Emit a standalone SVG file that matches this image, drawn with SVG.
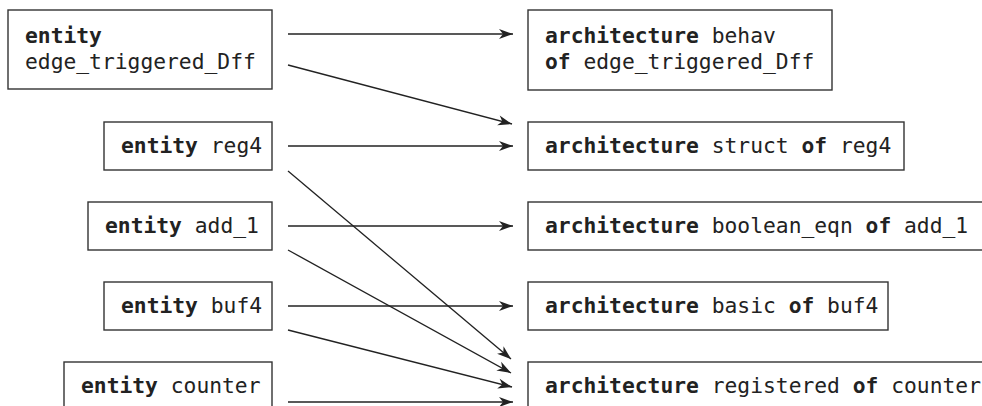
<svg xmlns="http://www.w3.org/2000/svg" width="982" height="406" viewBox="0 0 982 406">
  <style>
    .box { fill: #ffffff; stroke: #333333; stroke-width: 1.4; }
    .lbl { font-family: "DejaVu Sans Mono", "Liberation Mono", monospace; font-size: 21.3px; fill: #222222; }
    .kw { font-weight: bold; }
    .edge { stroke: #222222; stroke-width: 1.3; fill: none; marker-end: url(#arrow); }
  </style>
  <defs>
    <marker id="arrow" markerUnits="userSpaceOnUse" markerWidth="16" markerHeight="12" viewBox="-15 -6 16 12" refX="0" refY="0" orient="auto">
      <path d="M0,0 L-14,-5 L-10,0 L-14,5 Z" fill="#222222"/>
    </marker>
  </defs>
  <rect width="982" height="406" fill="#ffffff"/>

  <!-- entities -->
  <g id="ent-dff">
    <rect class="box" x="8" y="10" width="264" height="79"/>
    <text class="lbl" x="25" y="43"><tspan class="kw">entity</tspan></text>
    <text class="lbl" x="25" y="69">edge_triggered_Dff</text>
  </g>
  <g id="ent-reg4">
    <rect class="box" x="104" y="122" width="168" height="48"/>
    <text class="lbl" x="121" y="153"><tspan class="kw">entity</tspan> reg4</text>
  </g>
  <g id="ent-add1">
    <rect class="box" x="88" y="202" width="184" height="48"/>
    <text class="lbl" x="105" y="233"><tspan class="kw">entity</tspan> add_1</text>
  </g>
  <g id="ent-buf4">
    <rect class="box" x="104" y="282" width="168" height="48"/>
    <text class="lbl" x="121" y="313"><tspan class="kw">entity</tspan> buf4</text>
  </g>
  <g id="ent-counter">
    <rect class="box" x="64" y="362" width="208" height="60"/>
    <text class="lbl" x="81" y="393"><tspan class="kw">entity</tspan> counter</text>
  </g>

  <!-- architectures -->
  <g id="arch-behav">
    <rect class="box" x="528" y="10" width="304" height="80"/>
    <text class="lbl" x="545" y="43"><tspan class="kw">architecture</tspan> behav</text>
    <text class="lbl" x="545" y="69"><tspan class="kw">of</tspan> edge_triggered_Dff</text>
  </g>
  <g id="arch-struct">
    <rect class="box" x="528" y="122" width="376" height="48"/>
    <text class="lbl" x="545" y="153"><tspan class="kw">architecture</tspan> struct <tspan class="kw">of</tspan> reg4</text>
  </g>
  <g id="arch-boolean">
    <rect class="box" x="528" y="202" width="470" height="48"/>
    <text class="lbl" x="545" y="233"><tspan class="kw">architecture</tspan> boolean_eqn <tspan class="kw">of</tspan> add_1</text>
  </g>
  <g id="arch-basic">
    <rect class="box" x="528" y="282" width="360" height="48"/>
    <text class="lbl" x="545" y="313"><tspan class="kw">architecture</tspan> basic <tspan class="kw">of</tspan> buf4</text>
  </g>
  <g id="arch-registered">
    <rect class="box" x="528" y="362" width="470" height="60"/>
    <text class="lbl" x="545" y="393"><tspan class="kw">architecture</tspan> registered <tspan class="kw">of</tspan> counter</text>
  </g>

  <!-- connectors -->
  <g id="connectors">
    <line class="edge" x1="288" y1="34" x2="513" y2="34"/>
    <line class="edge" x1="288" y1="65" x2="512" y2="124"/>
    <line class="edge" x1="288" y1="146" x2="513" y2="146"/>
    <line class="edge" x1="288" y1="171" x2="511" y2="359"/>
    <line class="edge" x1="288" y1="226" x2="513" y2="226"/>
    <line class="edge" x1="288" y1="250" x2="511" y2="373"/>
    <line class="edge" x1="288" y1="306" x2="513" y2="306"/>
    <line class="edge" x1="288" y1="330" x2="512" y2="387"/>
    <line class="edge" x1="288" y1="402" x2="513" y2="402"/>
  </g>
</svg>
